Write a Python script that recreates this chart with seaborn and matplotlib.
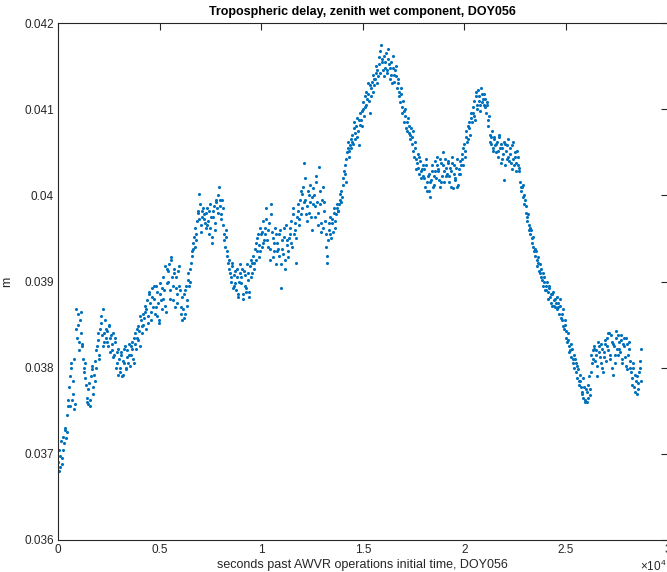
import numpy as np
import pandas as pd
import matplotlib
matplotlib.use("Agg")
import matplotlib.pyplot as plt
import seaborn as sns

# ---- data -----------------------------------------------------------
sample_interval_s = 60  # seconds between samples within one list
odd_offset_s = 30       # second list sampled half-way between the first

# zenith wet delay, millimetres, samples at 0, 60, 120 ... s
wet_delay_mm_a = [
    36.90, 37.05, 36.85, 36.95, 37.20, 37.12, 37.30, 37.25, 37.62, 37.78,
    37.55, 38.05, 37.70, 38.10, 37.58, 38.45, 38.62, 38.30, 38.55, 38.40,
    38.25, 37.95, 38.05, 37.80, 37.60, 37.75, 37.55, 37.90, 38.02, 37.70,
    37.85, 38.00, 38.25, 38.40, 38.15, 38.52, 38.38, 38.68, 38.30, 38.45,
    38.42, 38.25, 38.50, 38.35, 38.20, 38.40, 38.15, 38.30, 38.05, 38.22,
    38.10, 37.95, 38.18, 37.92, 38.05, 38.25, 37.98, 38.12, 38.28, 38.02,
    38.15, 38.30, 38.05, 38.40, 38.22, 38.35, 38.48, 38.25, 38.55, 38.40,
    38.50, 38.65, 38.45, 38.78, 38.60, 38.85, 38.55, 38.92, 38.70, 38.80,
    38.95, 38.60, 38.75, 38.52, 38.85, 38.68, 39.05, 38.90, 38.72, 39.15,
    39.00, 39.20, 38.80, 39.25, 38.95, 39.10, 38.70, 39.05, 38.85, 39.18,
    38.90, 38.70, 38.55, 38.85, 38.62, 38.95, 38.78, 39.10, 39.00, 39.22,
    39.30, 39.45, 39.40, 39.55, 39.70, 39.80, 40.02, 39.65, 39.75, 39.85,
    39.78, 39.62, 39.85, 39.70, 39.55, 39.90, 39.45, 39.75, 39.88, 39.60,
    39.92, 39.80, 40.10, 39.95, 39.72, 39.85, 39.55, 39.40, 39.60, 39.30,
    39.25, 39.10, 39.00, 39.18, 38.95, 39.12, 38.90, 39.05, 38.85, 39.20,
    38.98, 39.15, 38.80, 39.08, 38.92, 39.20, 39.02, 38.88, 39.25, 39.10,
    39.30, 39.15, 39.45, 39.35, 39.55, 39.28, 39.62, 39.40, 39.70, 39.48,
    39.55, 39.85, 39.40, 39.68, 39.25, 39.90, 39.50, 39.35, 39.62, 39.20,
    39.45, 39.30, 39.60, 38.92, 39.38, 39.52, 39.15, 39.65, 39.42, 39.28,
    39.55, 39.70, 39.40, 39.85, 39.60, 39.22, 39.75, 39.90, 39.65, 40.05,
    39.85, 40.10, 40.38, 39.95, 39.70, 40.05, 39.80, 40.12, 39.60, 39.90,
    40.00, 39.75, 40.22, 39.65, 40.33, 39.90, 39.58, 40.10, 39.82, 39.70,
    39.40, 39.22, 39.60, 39.75, 39.50, 39.68, 39.85, 39.62, 39.78, 39.90,
    39.82, 39.95, 40.05, 39.98, 40.20, 40.35, 40.15, 40.50, 40.62, 40.45,
    40.55, 40.70, 40.60, 40.85, 40.65, 40.90, 40.75, 40.58, 40.95, 40.80,
    41.00, 40.92, 41.15, 41.05, 41.30, 41.10, 40.95, 41.25, 41.20, 41.35,
    41.35, 41.50, 41.30, 41.60, 41.42, 41.74, 41.55, 41.38, 41.48, 41.65,
    41.45, 41.70, 41.35, 41.55, 41.30, 41.62, 41.40, 41.50, 41.25, 41.35,
    41.15, 41.25, 40.95, 41.10, 40.85, 41.00, 40.75, 40.90, 40.80, 40.70,
    40.60, 40.75, 40.45, 40.55, 40.30, 40.48, 40.25, 40.40, 40.20, 40.35,
    40.30, 40.10, 40.42, 40.05, 40.25, 39.98, 40.18, 40.35, 40.12, 40.28,
    40.20, 40.45, 40.30, 40.10, 40.38, 40.22, 40.50, 40.15, 40.32, 40.25,
    40.40, 40.15, 40.28, 40.45, 40.08, 40.35, 40.20, 40.42, 40.12, 40.30,
    40.25, 40.48, 40.35, 40.60, 40.52, 40.75, 40.65, 40.85, 40.70, 40.90,
    40.95, 41.10, 40.88, 41.20, 41.05, 41.15, 40.98, 41.25, 41.08, 41.18,
    41.12, 40.95, 41.05, 40.80, 40.70, 40.60, 40.75, 40.55, 40.65, 40.50,
    40.62, 40.45, 40.70, 40.38, 40.55, 40.48, 40.18, 40.60, 40.42, 40.65,
    40.40, 40.55, 40.30, 40.62, 40.35, 40.50, 40.28, 40.45, 40.32, 40.15,
    40.05, 40.12, 39.90, 39.95, 39.80, 39.70, 39.65, 39.55, 39.60, 39.45,
    39.40, 39.30, 39.35, 39.18, 39.22, 39.10, 39.15, 39.02, 38.95, 39.05,
    38.90, 39.00, 38.80, 38.95, 38.85, 38.72, 38.88, 38.78, 38.70, 38.82,
    38.75, 38.62, 38.80, 38.55, 38.68, 38.45, 38.50, 38.35, 38.40, 38.25,
    38.20, 38.28, 38.05, 38.15, 38.10, 37.95, 38.02, 37.85, 37.92, 37.78,
    37.70, 37.88, 37.62, 37.75, 37.60, 37.80, 37.68, 37.95, 38.05, 38.20,
    38.25, 38.15, 37.90, 38.30, 38.18, 38.05, 38.22, 37.95, 38.12, 38.28,
    38.35, 38.20, 38.40, 38.10, 38.30, 37.92, 38.25, 38.05, 38.42, 38.15,
    38.30, 38.18, 38.38, 38.05, 38.25, 38.12, 38.35, 37.98, 38.22, 38.08,
    37.95, 37.80, 38.05, 37.72, 37.85, 37.90, 37.75, 38.00, 38.22,
]

# zenith wet delay, millimetres, samples at 30, 90, 150 ... s
wet_delay_mm_b = [
    36.80, 36.98, 37.15, 36.88, 37.05, 37.28, 37.18, 37.45, 37.55, 37.90,
    38.00, 37.62, 37.85, 37.52, 38.68, 38.35, 38.50, 38.20, 38.65, 38.28,
    38.10, 38.00, 37.88, 37.65, 37.58, 37.82, 37.62, 37.98, 37.78, 37.92,
    38.08, 38.20, 38.32, 38.10, 38.45, 38.60, 38.25, 38.40, 38.55, 38.35,
    38.30, 38.48, 38.18, 38.38, 38.28, 38.12, 38.35, 38.00, 38.18, 37.92,
    38.00, 38.15, 37.90, 38.08, 38.22, 38.00, 38.20, 38.05, 38.15, 38.25,
    38.22, 38.10, 38.35, 38.28, 38.45, 38.32, 38.42, 38.60, 38.48, 38.62,
    38.58, 38.72, 38.68, 38.52, 38.88, 38.75, 38.65, 38.82, 38.95, 38.62,
    38.70, 38.88, 38.55, 38.98, 38.78, 38.92, 38.80, 39.18, 38.65, 38.98,
    39.12, 38.90, 39.28, 39.05, 38.78, 39.15, 38.92, 38.75, 39.12, 38.95,
    38.62, 38.82, 38.68, 38.58, 38.90, 38.72, 39.02, 38.95, 39.15, 39.35,
    39.38, 39.52, 39.62, 39.48, 39.82, 39.72, 39.90, 39.58, 39.82, 39.72,
    39.68, 39.80, 39.65, 39.82, 39.62, 39.75, 39.52, 39.82, 39.68, 39.95,
    39.85, 40.00, 39.88, 39.78, 39.95, 39.65, 39.48, 39.52, 39.35, 39.22,
    39.15, 39.05, 39.22, 38.92, 39.08, 38.98, 39.15, 38.82, 39.00, 39.10,
    39.05, 38.85, 39.12, 38.95, 38.88, 39.10, 38.82, 39.18, 39.05, 39.22,
    39.22, 39.38, 39.25, 39.50, 39.42, 39.35, 39.55, 39.58, 39.45, 39.62,
    39.72, 39.48, 39.60, 39.38, 39.78, 39.58, 39.28, 39.45, 39.55, 39.35,
    39.38, 39.55, 39.20, 39.48, 39.32, 39.62, 39.25, 39.48, 39.35, 39.50,
    39.62, 39.45, 39.78, 39.55, 39.68, 39.50, 39.82, 39.72, 39.95, 39.78,
    40.02, 39.92, 40.20, 39.78, 39.88, 40.00, 39.92, 39.75, 39.98, 40.08,
    39.88, 40.15, 39.92, 39.80, 40.05, 39.68, 39.95, 39.62, 39.92, 39.55,
    39.30, 39.48, 39.68, 39.55, 39.72, 39.58, 39.80, 39.70, 39.85, 39.82,
    39.90, 40.02, 39.92, 40.12, 40.28, 40.25, 40.42, 40.55, 40.52, 40.58,
    40.65, 40.62, 40.78, 40.72, 40.80, 40.68, 40.88, 40.82, 40.88, 40.98,
    41.08, 41.02, 41.20, 41.12, 41.18, 41.28, 41.15, 41.32, 41.40, 41.28,
    41.42, 41.45, 41.38, 41.52, 41.68, 41.58, 41.45, 41.62, 41.55, 41.42,
    41.58, 41.52, 41.48, 41.40, 41.48, 41.32, 41.45, 41.38, 41.30, 41.20,
    41.08, 41.18, 41.02, 40.98, 40.92, 40.78, 40.85, 40.72, 40.65, 40.78,
    40.68, 40.52, 40.62, 40.42, 40.38, 40.32, 40.45, 40.28, 40.30, 40.22,
    40.20, 40.35, 40.15, 40.22, 40.05, 40.15, 40.28, 40.10, 40.22, 40.40,
    40.35, 40.28, 40.18, 40.42, 40.15, 40.35, 40.28, 40.42, 40.22, 40.38,
    40.22, 40.32, 40.10, 40.38, 40.25, 40.18, 40.32, 40.10, 40.25, 40.40,
    40.35, 40.42, 40.55, 40.45, 40.68, 40.62, 40.80, 40.78, 40.95, 40.85,
    41.02, 40.92, 41.15, 41.00, 41.22, 41.10, 41.05, 41.18, 41.12, 41.05,
    41.02, 41.08, 40.88, 40.92, 40.62, 40.68, 40.52, 40.68, 40.58, 40.60,
    40.52, 40.68, 40.55, 40.60, 40.42, 40.62, 40.35, 40.52, 40.58, 40.45,
    40.48, 40.38, 40.58, 40.42, 40.45, 40.38, 40.52, 40.35, 40.28, 40.10,
    40.10, 39.98, 40.00, 39.88, 39.75, 39.78, 39.60, 39.62, 39.50, 39.52,
    39.35, 39.38, 39.25, 39.28, 39.12, 39.20, 39.05, 39.10, 39.00, 38.90,
    38.95, 38.88, 38.92, 38.82, 38.75, 38.85, 38.72, 38.80, 38.75, 38.68,
    38.70, 38.72, 38.58, 38.62, 38.48, 38.55, 38.42, 38.30, 38.32, 38.18,
    38.12, 38.22, 38.10, 38.00, 38.05, 37.88, 37.98, 37.80, 37.85, 37.72,
    37.65, 37.78, 37.60, 37.72, 37.65, 37.90, 37.75, 38.15, 38.10, 38.22,
    38.08, 38.20, 38.02, 38.25, 38.12, 38.28, 38.00, 38.18, 38.32, 38.08,
    38.25, 38.40, 38.15, 38.38, 38.00, 38.28, 38.15, 38.35, 38.22, 38.38,
    38.22, 38.32, 38.10, 38.28, 38.35, 38.02, 38.28, 38.15, 38.30, 38.00,
    37.88, 38.00, 37.78, 37.92, 37.70, 37.82, 37.95, 38.08, 37.85,
]

x_ticks = [0, 5000, 10000, 15000, 20000, 25000, 30000]
x_tick_labels = ["0", "0.5", "1", "1.5", "2", "2.5", "3"]
y_ticks = [0.036, 0.037, 0.038, 0.039, 0.040, 0.041, 0.042]
y_tick_labels = ["0.036", "0.037", "0.038", "0.039", "0.04", "0.041", "0.042"]

title_text = "Tropospheric delay, zenith wet component, DOY056"
x_label = "seconds past AWVR operations initial time, DOY056"
y_label = "m"

t_a = np.arange(len(wet_delay_mm_a)) * sample_interval_s
t_b = np.arange(len(wet_delay_mm_b)) * sample_interval_s + odd_offset_s
df = pd.DataFrame({
    "t": np.concatenate([t_a, t_b]),
    "delay": np.concatenate([wet_delay_mm_a, wet_delay_mm_b]) / 1000.0,
}).sort_values("t")

# ---- style ----------------------------------------------------------
sns.set_style("white")
plt.rcParams["font.family"] = ["Liberation Sans", "DejaVu Sans"]
plt.rcParams["mathtext.fontset"] = "custom"
plt.rcParams["mathtext.rm"] = "Liberation Sans"
plt.rcParams["mathtext.it"] = "Liberation Sans"

fig = plt.figure(figsize=(6.67, 5.72), dpi=100)
ax = fig.add_axes([58 / 667, 1 - 540 / 572, 609.6 / 667, 517 / 572])

sns.scatterplot(data=df, x="t", y="delay", ax=ax, s=5, color="#0072BD",
                linewidth=0, marker="o", legend=False)

ax.set_xlim(0, 30000)
ax.set_ylim(0.036, 0.042)
ax.set_xticks(x_ticks)
ax.set_xticklabels(x_tick_labels)
ax.set_yticks(y_ticks)
ax.set_yticklabels(y_tick_labels)

axis_color = "#262626"
for sp in ax.spines.values():
    sp.set_visible(True)
    sp.set_color(axis_color)
    sp.set_linewidth(0.8)
ax.tick_params(axis="both", direction="in", length=5, width=0.8,
               colors=axis_color, labelsize=8.5, top=True, right=True,
               labelcolor="#262626", pad=3)

ax.set_title(title_text, fontsize=9, fontweight="bold", color="black", pad=6)
ax.set_xlabel(x_label, fontsize=9, color="#262626", labelpad=2)
ax.set_ylabel(y_label, fontsize=9, color="#262626", labelpad=8)

fig.text(640 / 667, 1 - 566 / 572, r"$\times10^{4}$", fontsize=8.5,
         color="#262626", ha="left", va="center")

fig.savefig("out.png", dpi=100)
